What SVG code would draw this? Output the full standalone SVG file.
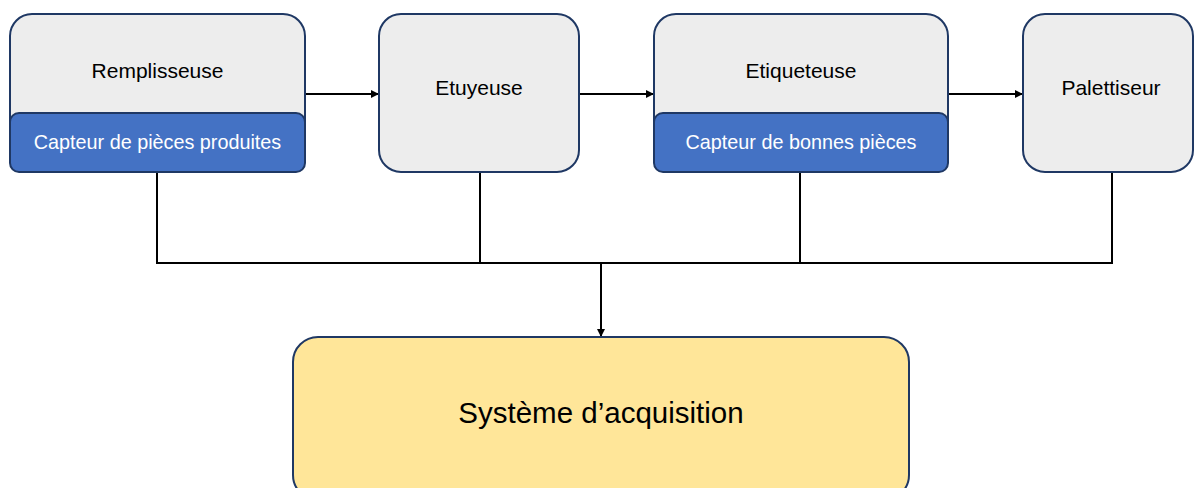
<svg xmlns="http://www.w3.org/2000/svg" width="1195" height="488" viewBox="0 0 1195 488">
<defs>
<marker id="arr" viewBox="0 0 10 10" refX="10" refY="5" markerWidth="8" markerHeight="8" markerUnits="userSpaceOnUse" orient="auto">
<path d="M0,0 L10,5 L0,10 z" fill="#000"/>
</marker>
<style>
.box{fill:#ededed;stroke:#1f3864;stroke-width:2}
.sensor{fill:#4472c4;stroke:#1f3864;stroke-width:2}
.sys{fill:#ffe699;stroke:#1f3864;stroke-width:2}
.t{font-family:"Liberation Sans",Arial,sans-serif;font-size:21px;fill:#000;text-anchor:middle;dominant-baseline:central}
.ts{font-family:"Liberation Sans",Arial,sans-serif;font-size:19.8px;fill:#fff;text-anchor:middle;dominant-baseline:central}
.tb{font-family:"Liberation Sans",Arial,sans-serif;font-size:29.5px;fill:#000;text-anchor:middle;dominant-baseline:central}
.c{fill:none;stroke:#000;stroke-width:2}
</style>
</defs>
<rect width="1195" height="488" fill="#fff"/>
<g id="connectors">
<line class="c" x1="305" y1="94" x2="379" y2="94" marker-end="url(#arr)"/>
<line class="c" x1="579" y1="94" x2="654" y2="94" marker-end="url(#arr)"/>
<line class="c" x1="948" y1="94" x2="1023" y2="94" marker-end="url(#arr)"/>
<polyline class="c" points="157,172 157,263 1112,263 1112,172"/>
<line class="c" x1="480" y1="172" x2="480" y2="263"/>
<line class="c" x1="800" y1="172" x2="800" y2="263"/>
<line class="c" x1="601" y1="263" x2="601" y2="337" marker-end="url(#arr)"/>
</g>
<g id="remplisseuse">
<rect class="box" x="10" y="14" width="295" height="158" rx="22"/>
<rect class="sensor" x="10" y="113" width="295" height="59" rx="9"/>
<text class="t" x="157.5" y="70">Remplisseuse</text>
<text class="ts" x="157.5" y="142">Capteur de pièces produites</text>
</g>
<g id="etuyeuse">
<rect class="box" x="379" y="14" width="200" height="158" rx="22"/>
<text class="t" x="479" y="87">Etuyeuse</text>
</g>
<g id="etiqueteuse">
<rect class="box" x="654" y="14" width="294" height="158" rx="22"/>
<rect class="sensor" x="654" y="113" width="294" height="59" rx="9"/>
<text class="t" x="801" y="70">Etiqueteuse</text>
<text class="ts" x="801" y="142">Capteur de bonnes pièces</text>
</g>
<g id="palettiseur">
<rect class="box" x="1023" y="14" width="170" height="158" rx="22"/>
<text class="t" x="1111" y="87">Palettiseur</text>
</g>
<g id="systeme">
<rect class="sys" x="293" y="337" width="616" height="163" rx="25"/>
<text class="tb" x="601" y="412">Système d’acquisition</text>
</g>
</svg>
